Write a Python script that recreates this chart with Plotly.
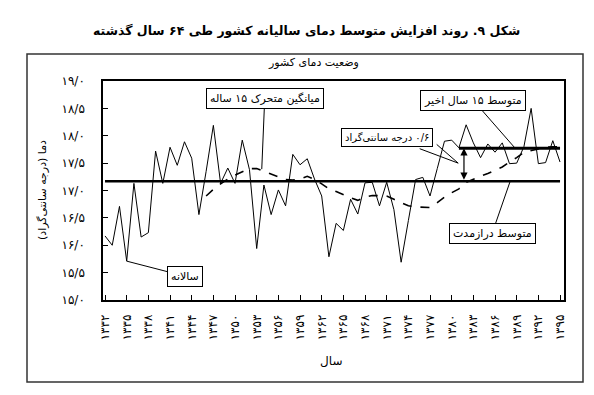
import plotly.graph_objects as go

# ---------------- data ----------------
years = list(range(1332, 1396))
annual_temp = [
    16.17, 16.00, 16.71, 15.71, 17.13, 16.15, 16.23, 17.72, 17.13, 17.79,
    17.46, 17.89, 17.59, 16.56, 17.35, 18.19, 17.13, 17.41, 17.13, 17.92,
    17.38, 15.94, 17.10, 16.56, 17.01, 16.72, 17.66, 17.47, 17.58, 17.21,
    16.90, 15.79, 16.40, 16.27, 16.84, 16.57, 17.14, 17.15, 16.72, 17.15,
    16.65, 15.69, 16.45, 17.20, 17.24, 16.90, 17.40, 17.90, 17.92, 17.78,
    18.20, 17.87, 17.60, 17.85, 17.70, 17.87, 17.49, 17.50, 17.80, 18.50,
    17.49, 17.51, 17.91, 17.52,
]
ma_years = list(range(1346, 1396))
moving_avg_15 = [
    16.90, 17.02, 17.12, 17.21, 17.28, 17.34, 17.40, 17.40, 17.35, 17.30,
    17.25, 17.20, 17.19, 17.21, 17.26, 17.20, 17.12, 17.03, 16.98, 16.92,
    16.87, 16.82, 16.88, 16.91, 16.91, 16.90, 16.84, 16.78, 16.72, 16.70,
    16.69, 16.69, 16.78, 16.88, 16.96, 17.03, 17.15, 17.21, 17.26, 17.31,
    17.37, 17.43, 17.52, 17.60, 17.70, 17.73, 17.77, 17.79, 17.80, 17.80,
]
long_term_years = [1332, 1395]
long_term_mean = 17.17
recent_years = [1381, 1395]
recent_mean = 17.77
diff_year = 1381.7

x_tickvals = [1332, 1335, 1338, 1341, 1344, 1347, 1350, 1353, 1356, 1359, 1362,
              1365, 1368, 1371, 1374, 1377, 1380, 1383, 1386, 1389, 1392, 1395]
x_ticktext = ["۱۳۳۲", "۱۳۳۵", "۱۳۳۸", "۱۳۴۱", "۱۳۴۴", "۱۳۴۷", "۱۳۵۰", "۱۳۵۳",
              "۱۳۵۶", "۱۳۵۹", "۱۳۶۲", "۱۳۶۵", "۱۳۶۸", "۱۳۷۱", "۱۳۷۴", "۱۳۷۷",
              "۱۳۸۰", "۱۳۸۳", "۱۳۸۶", "۱۳۸۹", "۱۳۹۲", "۱۳۹۵"]
y_tickvals = [15.0, 15.5, 16.0, 16.5, 17.0, 17.5, 18.0, 18.5, 19.0]
y_ticktext = ["۱۵/۰", "۱۵/۵", "۱۶/۰", "۱۶/۵", "۱۷/۰", "۱۷/۵", "۱۸/۰", "۱۸/۵", "۱۹/۰"]

RLM = "\u200f"
title_text = "شکل ۹. روند افزایش متوسط دمای سالیانه کشور طی ۶۴ سال گذشته"
subtitle_text = "وضعیت دمای کشور"
ytitle_text = "دما (درجه سانتی‌گراد)" + RLM
xtitle_text = "سال"
diff_text = RLM + "۰/۶ درجه سانتی‌گراد"

# ---------------- layout geometry ----------------
W, H = 594, 395
L, R, T, B = 95, 38, 73, 103
PW, PH = W - L - R, H - T - B


def px_x(px):
    return (px - L) / PW


def px_y(py):
    return (H - B - py) / PH


FONT = "DejaVu Sans"

fig = go.Figure()
fig.add_trace(go.Scatter(x=years, y=annual_temp, mode="lines",
                         line=dict(color="black", width=1), hoverinfo="skip"))
fig.add_trace(go.Scatter(x=ma_years, y=moving_avg_15, mode="lines",
                         line=dict(color="black", width=1.6, dash="dash"), hoverinfo="skip"))
fig.add_trace(go.Scatter(x=long_term_years, y=[long_term_mean] * 2, mode="lines",
                         line=dict(color="black", width=2.5), hoverinfo="skip"))
fig.add_trace(go.Scatter(x=recent_years, y=[recent_mean] * 2, mode="lines",
                         line=dict(color="black", width=3), hoverinfo="skip"))

box = dict(bordercolor="black", borderwidth=1, bgcolor="white", borderpad=3,
           font=dict(family=FONT, size=11, color="black"))
box_small = dict(bordercolor="black", borderwidth=1, bgcolor="white", borderpad=3,
                 font=dict(family=FONT, size=10, color="black"))

annotations = [
    # title / subtitle / axis titles
    dict(text="<b>" + title_text + "</b>", xref="paper", yref="paper",
         x=px_x(298), y=px_y(23), xanchor="center", yanchor="middle",
         showarrow=False, font=dict(family=FONT, size=12.5, color="black")),
    dict(text=subtitle_text, xref="paper", yref="paper",
         x=px_x(305), y=px_y(55), xanchor="center", yanchor="middle",
         showarrow=False, font=dict(family=FONT, size=11, color="black")),
    dict(text=ytitle_text, xref="paper", yref="paper", textangle=-90,
         x=px_x(34), y=px_y(182), xanchor="center", yanchor="middle",
         showarrow=False, font=dict(family=FONT, size=11, color="black")),
    dict(text=xtitle_text, xref="paper", yref="paper",
         x=px_x(323), y=px_y(353), xanchor="center", yanchor="middle",
         showarrow=False, font=dict(family=FONT, size=12, color="black")),
    # callouts
    dict(text="سالانه", x=1335, y=annual_temp[3], ax=58, ay=15,
         showarrow=True, arrowhead=0, arrowwidth=1, arrowcolor="black", **box),
    dict(text="میانگین متحرک ۱۵ ساله", x=1353.7, y=17.39, ax=3, ay=-71,
         showarrow=True, arrowhead=0, arrowwidth=1, arrowcolor="black", **box),
    dict(text="متوسط ۱۵ سال اخیر", x=1388.8, y=recent_mean, ax=-42, ay=-48,
         showarrow=True, arrowhead=0, arrowwidth=1, arrowcolor="black", **box),
    dict(text="متوسط درازمدت", x=1388.1, y=long_term_mean, ax=-18, ay=52,
         showarrow=True, arrowhead=0, arrowwidth=1, arrowcolor="black", **box),
    dict(text=diff_text, xref="paper", yref="paper",
         x=px_x(379), y=px_y(129), xanchor="center", yanchor="middle",
         showarrow=False, **box_small),
    dict(text="", x=1380.9, y=17.5, ax=-40, ay=-15, showarrow=True,
         arrowhead=0, arrowwidth=1, arrowcolor="black"),
    dict(text="", x=1380.9, y=17.5, ax=-23, ay=-20, showarrow=True,
         arrowhead=0, arrowwidth=1, arrowcolor="black"),
    # double-headed 0.6 degree arrow
    dict(text="", x=diff_year, y=recent_mean, ax=diff_year, ay=long_term_mean,
         axref="x", ayref="y", showarrow=True, arrowhead=2, arrowside="end+start",
         arrowsize=1.2, arrowwidth=1.2, arrowcolor="black"),
]

fig.update_layout(
    width=W, height=H,
    margin=dict(l=L, r=R, t=T, b=B),
    paper_bgcolor="white", plot_bgcolor="white",
    showlegend=False,
    font=dict(family=FONT, color="black"),
    annotations=annotations,
    shapes=[dict(type="rect", xref="paper", yref="paper",
                 x0=px_x(19), x1=px_x(575), y0=px_y(374), y1=px_y(46),
                 line=dict(color="#333333", width=1.5), layer="below")],
)
fig.update_xaxes(range=[1331.72, 1395.55], tickvals=x_tickvals, ticktext=x_ticktext,
                 tickangle=-90, ticks="inside", ticklen=5, tickcolor="black",
                 showline=True, linecolor="black", linewidth=1.5, mirror=True,
                 showgrid=False, zeroline=False, ticklabelstandoff=8,
                 tickfont=dict(family=FONT, size=12, color="black"))
fig.update_yaxes(range=[15, 19], tickvals=y_tickvals, ticktext=y_ticktext,
                 ticks="inside", ticklen=5, tickcolor="black",
                 showline=True, linecolor="black", linewidth=1.5, mirror=True,
                 showgrid=False, zeroline=False, ticklabelstandoff=14,
                 tickfont=dict(family=FONT, size=12, color="black"))

fig.write_html("out.html")
